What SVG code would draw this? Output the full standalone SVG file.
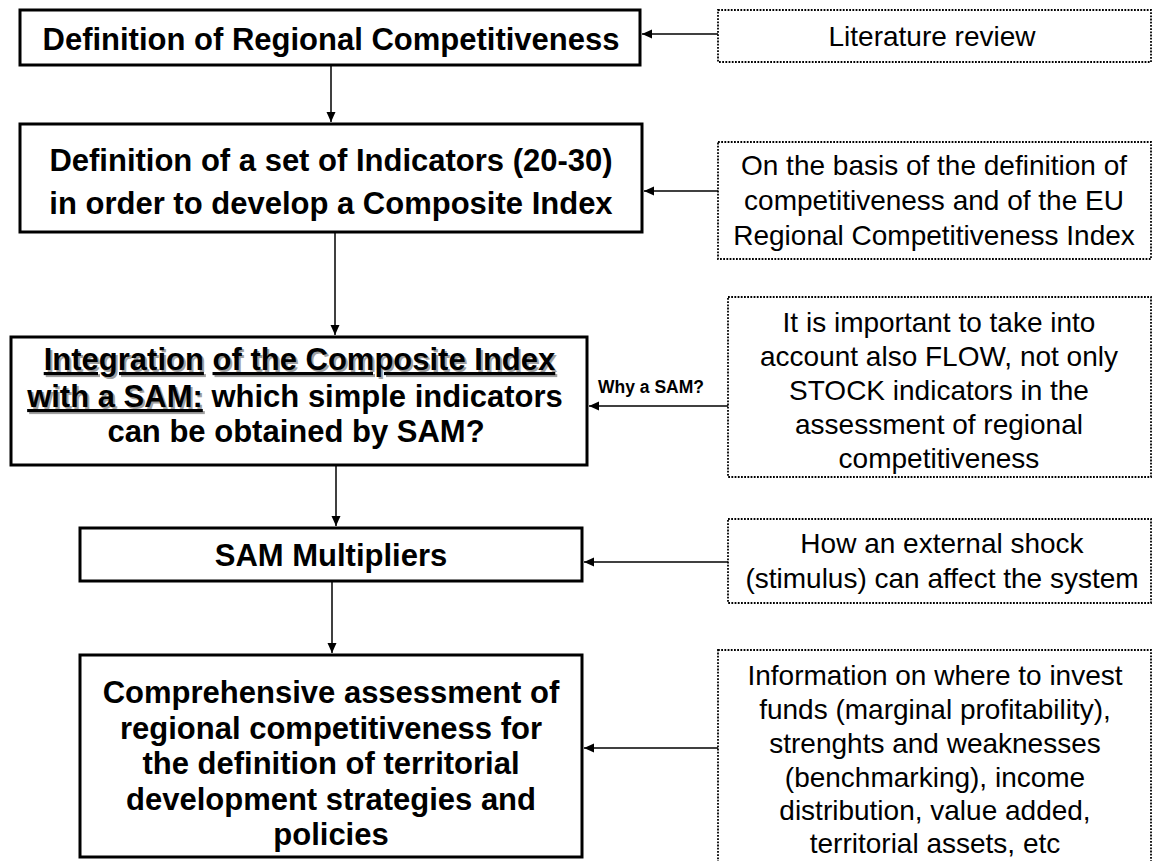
<svg xmlns="http://www.w3.org/2000/svg" width="1153" height="861" viewBox="0 0 1153 861">
<defs>
<marker id="ah" markerUnits="userSpaceOnUse" markerWidth="11" markerHeight="10" refX="10" refY="4.5" orient="auto">
<path d="M0,0 L10,4.5 L0,9 z" fill="#000"/>
</marker>
<style>
.box{fill:#fff;stroke:#000;stroke-width:3}
.dot{fill:#fff;stroke:#000;stroke-width:1.8;stroke-dasharray:1.8 1.4}
.b{font-family:"Liberation Sans",Arial,sans-serif;font-weight:bold;font-size:31px;text-anchor:middle;fill:#000}
.r{font-family:"Liberation Sans",Arial,sans-serif;font-size:28px;text-anchor:middle;fill:#000}
.sh{fill:#a0a0a0}
.c{stroke:#000;stroke-width:1.5;fill:none;marker-end:url(#ah)}
.lbl{font-family:"Liberation Sans",Arial,sans-serif;font-weight:bold;font-size:17.5px;text-anchor:middle;fill:#000}
</style>
</defs>
<rect width="1153" height="861" fill="#fff"/>
<g id="connectors">
<line class="c" x1="718" y1="34" x2="642" y2="34"/>
<line class="c" x1="331" y1="65" x2="331" y2="122"/>
<line class="c" x1="718" y1="191" x2="644" y2="191"/>
<line class="c" x1="335" y1="232" x2="335" y2="335"/>
<line class="c" x1="728" y1="406" x2="589" y2="406"/>
<line class="c" x1="336" y1="465" x2="336" y2="526"/>
<line class="c" x1="728" y1="562" x2="584" y2="562"/>
<line class="c" x1="332" y1="581" x2="332" y2="653"/>
<line class="c" x1="718" y1="748" x2="584" y2="748"/>
<text class="lbl" x="651" y="393">Why a SAM?</text>
</g>
<g id="n1">
<rect class="box" x="20" y="10" width="620" height="55"/>
<text class="b" x="331" y="50">Definition of Regional Competitiveness</text>
</g>
<g id="lit">
<rect class="dot" x="718" y="10" width="433" height="52"/>
<text class="r" x="932" y="46">Literature review</text>
</g>
<g id="n2">
<rect class="box" x="20" y="124" width="622" height="108"/>
<text class="b" x="331" y="171">Definition of a set of Indicators (20-30)</text>
<text class="b" x="331" y="214">in order to develop a Composite Index</text>
</g>
<g id="basis">
<rect class="dot" x="718" y="142" width="433" height="117"/>
<text class="r" x="934" y="175">On the basis of the definition of</text>
<text class="r" x="934" y="210">competitiveness and of the EU</text>
<text class="r" x="934" y="245">Regional Competitiveness Index</text>
</g>
<g id="n3">
<rect class="box" x="11" y="337" width="576" height="128"/>
<text class="b sh" x="301.5" y="372"><tspan text-decoration="underline">Integration</tspan> <tspan text-decoration="underline">of the Composite Index</tspan></text>
<text class="b" x="299.5" y="370"><tspan text-decoration="underline">Integration</tspan> <tspan text-decoration="underline">of the Composite Index</tspan></text>
<text class="b" x="297" y="409"><tspan class="sh" text-decoration="underline">with a SAM:</tspan><tspan fill="none"> which simple indicators</tspan></text>
<text class="b" x="295" y="407"><tspan text-decoration="underline">with a SAM:</tspan> which simple indicators</text>
<text class="b" x="296" y="442">can be obtained by SAM?</text>
</g>
<g id="flow">
<rect class="dot" x="728" y="297" width="423" height="180"/>
<text class="r" x="939" y="332">It is important to take into</text>
<text class="r" x="939" y="366">account also FLOW, not only</text>
<text class="r" x="939" y="400">STOCK indicators in the</text>
<text class="r" x="939" y="434">assessment of regional</text>
<text class="r" x="939" y="468">competitiveness</text>
</g>
<g id="n4">
<rect class="box" x="80" y="528" width="502" height="53"/>
<text class="b" x="331" y="566">SAM Multipliers</text>
</g>
<g id="shock">
<rect class="dot" x="728" y="519" width="423" height="84"/>
<text class="r" x="942" y="553">How an external shock</text>
<text class="r" x="942" y="588">(stimulus) can affect the system</text>
</g>
<g id="n5">
<rect class="box" x="80" y="655" width="502" height="202"/>
<text class="b" x="331" y="703">Comprehensive assessment of</text>
<text class="b" x="331" y="738.5">regional competitiveness for</text>
<text class="b" x="331" y="774">the definition of territorial</text>
<text class="b" x="331" y="809.5">development strategies and</text>
<text class="b" x="331" y="845">policies</text>
</g>
<g id="info">
<rect class="dot" x="718" y="650" width="433" height="230"/>
<text class="r" x="935" y="685">Information on where to invest</text>
<text class="r" x="935" y="719">funds (marginal profitability),</text>
<text class="r" x="935" y="753">strenghts and weaknesses</text>
<text class="r" x="935" y="787">(benchmarking), income</text>
<text class="r" x="935" y="820">distribution, value added,</text>
<text class="r" x="935" y="853">territorial assets, etc</text>
</g>
</svg>
